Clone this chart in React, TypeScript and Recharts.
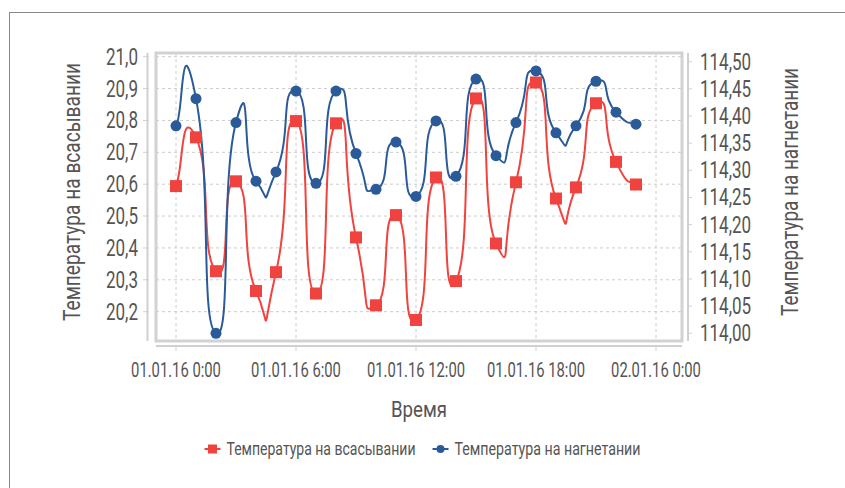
import React from 'react';
import {
  LineChart, Line, XAxis, YAxis, CartesianGrid, ReferenceArea, Legend,
} from 'recharts';

// ---------- data ----------
const hours = [0, 1, 2, 3, 4, 5, 6, 7, 8, 9, 10, 11, 12, 13, 14, 15, 16, 17, 18, 19, 20, 21, 22, 23];
const suction = [
  20.594, 20.747, 20.327, 20.609, 20.265, 20.324, 20.798, 20.257, 20.791, 20.433, 20.22, 20.503,
  20.174, 20.621, 20.296, 20.869, 20.414, 20.606, 20.919, 20.555, 20.59, 20.854, 20.67, 20.599,
];
const discharge = [
  114.382, 114.432, 114.0, 114.388, 114.28, 114.297, 114.446, 114.276, 114.446, 114.331, 114.265, 114.352,
  114.252, 114.391, 114.289, 114.468, 114.327, 114.388, 114.483, 114.369, 114.382, 114.464, 114.407, 114.385,
];
const xTicks = [0, 6, 12, 18, 24];
const xTickLabels = ['01.01.16 0:00', '01.01.16 6:00', '01.01.16 12:00', '01.01.16 18:00', '02.01.16 0:00'];
const leftTicks = [20.2, 20.3, 20.4, 20.5, 20.6, 20.7, 20.8, 20.9, 21.0];
const rightTicks = [114.0, 114.05, 114.1, 114.15, 114.2, 114.25, 114.3, 114.35, 114.4, 114.45, 114.5];
const seriesNames = ['Температура на всасывании', 'Температура на нагнетании'];
const xTitle = 'Время';

const xDomain: [number, number] = [-1, 25.3];
const leftDomain: [number, number] = [20.108, 21.0116];
const rightDomain: [number, number] = [113.9858, 114.516];

const data = hours.map((h, i) => ({ h, suction: suction[i], discharge: discharge[i] }));

// ---------- style ----------
const RED = '#F0433F';
const BLUE = '#2A5B98';
const TEXT = '#555555';
const FONT = 'Roboto, sans-serif';
const SX = 0.74;

// Tension spline (overshooting, Excel-like smoothing)
const K = 0.4;
function tensionCurve(context: any) {
  let xs: number[] = [];
  let ys: number[] = [];
  return {
    areaStart() {},
    areaEnd() {},
    lineStart() { xs = []; ys = []; },
    point(x: number, y: number) { xs.push(+x); ys.push(+y); },
    lineEnd() {
      const n = xs.length;
      if (!n) return;
      context.moveTo(xs[0], ys[0]);
      for (let i = 0; i < n - 1; i++) {
        const i0 = Math.max(0, i - 1);
        const i3 = Math.min(n - 1, i + 2);
        const c1x = xs[i] + K * (xs[i + 1] - xs[i0]);
        const c1y = ys[i] + K * (ys[i + 1] - ys[i0]);
        const c2x = xs[i + 1] - K * (xs[i3] - xs[i]);
        const c2y = ys[i + 1] - K * (ys[i3] - ys[i]);
        context.bezierCurveTo(c1x, c1y, c2x, c2y, xs[i + 1], ys[i + 1]);
      }
    },
  };
}

const fmt = (v: number, d: number) => v.toFixed(d).replace('.', ',');

function CondText(props: any) {
  const { x, y, anchor, size, children } = props;
  return (
    <text
      x={x}
      y={y}
      textAnchor={anchor}
      fontSize={size}
      fontFamily={FONT}
      fill={TEXT}
      transform={`translate(${x},0) scale(${SX},1) translate(${-x},0)`}
    >
      {children}
    </text>
  );
}

const LeftTick = (p: any) => (
  <CondText x={p.x} y={p.y + 8} anchor="end" size={23}>{fmt(p.payload.value, 1)}</CondText>
);
const RightTick = (p: any) => (
  <CondText x={p.x} y={p.y + 8} anchor="start" size={23}>{fmt(p.payload.value, 2)}</CondText>
);
const BottomTick = (p: any) => {
  const idx = xTicks.indexOf(p.payload.value);
  return (
    <CondText x={p.x} y={377} anchor="middle" size={20}>{xTickLabels[idx]}</CondText>
  );
};

// Rotated condensed title: scale horizontally (along text) then fit exactly
function VTitle(props: any) {
  const { viewBox, text, dx, len } = props;
  const cx = viewBox.x + dx;
  const cy = viewBox.y + viewBox.height / 2 - 5;
  const s = 0.82;
  return (
    <text
      transform={`translate(${cx},${cy}) rotate(-90) scale(${s},1)`}
      x={0}
      y={0}
      textAnchor="middle"
      dominantBaseline="central"
      fontSize={23}
      fontFamily={FONT}
      fill={TEXT}
      textLength={len / s}
      lengthAdjust="spacingAndGlyphs"
    >
      {text}
    </text>
  );
}

function XTitle(props: any) {
  const { viewBox } = props;
  const cx = viewBox.x + viewBox.width / 2;
  const s = 0.86;
  return (
    <text
      transform={`translate(${cx},${viewBox.y + 76}) scale(${s},1)`}
      x={0}
      y={0}
      textAnchor="middle"
      fontSize={22}
      fontFamily={FONT}
      fill={TEXT}
      textLength={56 / s}
      lengthAdjust="spacingAndGlyphs"
    >
      {xTitle}
    </text>
  );
}

const legendTextLen = [189, 186];
function LegendContent(props: any) {
  const items = props.payload || [];
  const markerW = 16;
  const gapText = 6;
  const gapItems = 17;
  const s = 0.75;
  const widths = items.map((_: any, i: number) => markerW + gapText + legendTextLen[i]);
  const total = widths.reduce((a: number, b: number) => a + b, 0) + gapItems * (items.length - 1);
  let cur = 845 / 2 - total / 2;
  return (
    <svg width={845} height={30} style={{ display: 'block' }}>
      {items.map((it: any, i: number) => {
        const x0 = cur;
        cur += widths[i] + gapItems;
        const mx = x0 + markerW / 2;
        const tx = x0 + markerW + gapText;
        return (
          <g key={i}>
            <line x1={x0} x2={x0 + markerW} y1={15} y2={15} stroke={it.color} strokeWidth={2} />
            {i === 0 ? (
              <rect x={mx - 4.5} y={10.5} width={9} height={9} fill={it.color} />
            ) : (
              <circle cx={mx} cy={15} r={4} fill={it.color} />
            )}
            <text
              transform={`translate(${tx},21) scale(${s},1)`}
              x={0}
              y={0}
              fontSize={19}
              fontFamily={FONT}
              fill={TEXT}
              textLength={legendTextLen[i] / s}
              lengthAdjust="spacingAndGlyphs"
            >
              {it.value}
            </text>
          </g>
        );
      })}
    </svg>
  );
}

const SquareDot = (p: any) => {
  if (p.cx == null || p.cy == null) return <g key={p.key} />;
  return <rect key={p.key} x={p.cx - 6} y={p.cy - 6} width={12} height={12} fill={RED} />;
};

export default function App() {
  return (
    <div style={{ position: 'absolute', left: 0, top: 0, width: 845, height: 488, overflow: 'hidden', background: '#fff' }}>
      <div
        style={{
          position: 'absolute', left: 9, top: 12, width: 900, height: 600,
          borderTop: '1.5px solid #8a8a8a', borderLeft: '1.5px solid #8a8a8a',
        }}
      />
      <div style={{ position: 'absolute', left: 0, top: 0 }}>
        <LineChart width={845} height={488} data={data} margin={{ top: 53, right: 0, bottom: 0, left: 0 }}>
          <CartesianGrid
            yAxisId="left"
            stroke="#cccccc"
            strokeDasharray="3 3"
            strokeWidth={1}
          />
          <ReferenceArea
            yAxisId="left"
            x1={xDomain[0]}
            x2={xDomain[1]}
            y1={leftDomain[0]}
            y2={leftDomain[1]}
            fill="none"
            stroke="#d2d2d2"
            strokeWidth={3}
            ifOverflow="visible"
          />
          <XAxis
            dataKey="h"
            type="number"
            domain={xDomain}
            ticks={xTicks}
            allowDataOverflow
            height={147}
            axisLine={{ stroke: '#d0d0d0', strokeWidth: 2, transform: 'translate(0,5)' }}
            tickLine={{ stroke: '#d0d0d0', strokeWidth: 1, transform: 'translate(0,5)' }}
            tickSize={5}
            tick={<BottomTick />}
            interval={0}
            label={<XTitle />}
          />
          <YAxis
            yAxisId="left"
            orientation="left"
            width={156}
            type="number"
            domain={leftDomain}
            ticks={leftTicks}
            allowDataOverflow
            axisLine={{ stroke: '#d0d0d0', strokeWidth: 2, transform: 'translate(-8.5,0)' }}
            tickLine={{ stroke: '#d0d0d0', strokeWidth: 1, transform: 'translate(-7,0)' }}
            tickSize={6}
            tickMargin={12}
            tick={<LeftTick />}
            interval={0}
            label={<VTitle text={seriesNames[0]} dx={72} len={258} />}
          />
          <YAxis
            yAxisId="right"
            orientation="right"
            width={163}
            type="number"
            domain={rightDomain}
            ticks={rightTicks}
            allowDataOverflow
            axisLine={{ stroke: '#d0d0d0', strokeWidth: 2, transform: 'translate(6,0)' }}
            tickLine={{ stroke: '#d0d0d0', strokeWidth: 1, transform: 'translate(6,0)' }}
            tickSize={4}
            tickMargin={14}
            tick={<RightTick />}
            interval={0}
            label={<VTitle text={seriesNames[1]} dx={108} len={248} />}
          />
          <Legend
            layout="horizontal"
            verticalAlign="middle"
            align="center"
            wrapperStyle={{ left: 0, top: 434, width: 845, height: 30 }}
            content={<LegendContent />}
          />
          <Line
            yAxisId="left"
            dataKey="suction"
            name={seriesNames[0]}
            type={tensionCurve as any}
            stroke={RED}
            strokeWidth={2}
            dot={SquareDot}
            activeDot={false}
            isAnimationActive={false}
          />
          <Line
            yAxisId="right"
            dataKey="discharge"
            name={seriesNames[1]}
            type={tensionCurve as any}
            stroke={BLUE}
            strokeWidth={2}
            dot={{ r: 5.5, fill: BLUE, stroke: BLUE, strokeWidth: 0 }}
            activeDot={false}
            isAnimationActive={false}
          />
        </LineChart>
      </div>
    </div>
  );
}
